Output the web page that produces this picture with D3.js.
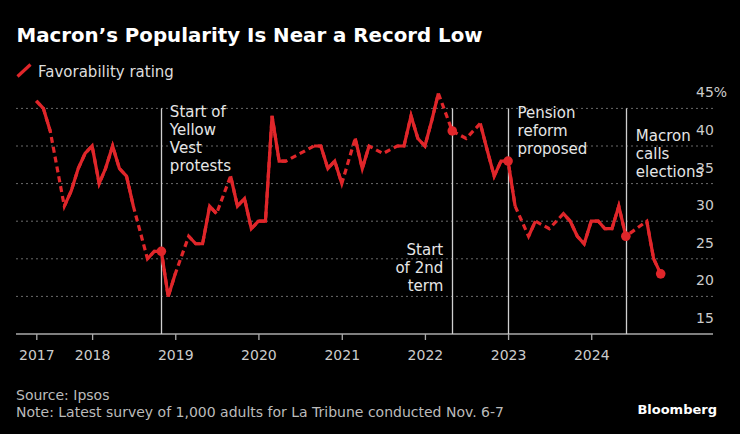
<!DOCTYPE html>
<html>
<head>
<meta charset="utf-8">
<script src="https://cdn.jsdelivr.net/npm/d3@7"></script>
<style>
  html, body { margin: 0; padding: 0; background: #000; }
  svg { display: block; font-family: "DejaVu Sans", sans-serif; }
</style>
</head>
<body>
<svg id="chart" width="740" height="434"></svg>
<script>
// ---- data ----
const months = [
  "2017-05","2017-06","2017-07","2017-09","2017-10","2017-11","2017-12",
  "2018-01","2018-02","2018-03","2018-04","2018-05","2018-06","2018-07","2018-09","2018-10","2018-11","2018-12",
  "2019-01","2019-03","2019-04","2019-05","2019-06","2019-07","2019-09","2019-10","2019-11","2019-12",
  "2020-01","2020-02","2020-03","2020-04","2020-05","2020-09","2020-10","2020-11","2020-12",
  "2021-01","2021-03","2021-04","2021-05","2021-07","2021-09","2021-10","2021-11","2021-12",
  "2022-01","2022-02","2022-03","2022-05","2022-07","2022-09","2022-10","2022-11","2022-12",
  "2023-01","2023-02","2023-04","2023-05","2023-07","2023-09","2023-10","2023-11","2023-12",
  "2024-01","2024-02","2024-03","2024-04","2024-05","2024-06","2024-09","2024-10","2024-11"
];
const favorability = [
  46,45,42,32,34,37,39,
  40,35,37,40,37,36,32,25,26,26,20,
  23,28,27,27,32,31,36,32,33,29,
  30,30,44,38,38,40,40,37,38,
  35,41,37,40,39,40,40,44,41,
  40,43.5,47,42,41,43,39.5,36,38,
  38,32,28,30,29,31,30,28,27,
  30,30,29,29,32,28,30,25,23
];
const yTicks = [15, 20, 25, 30, 35, 40, 45];
const xTickDates = ["2017-05","2018-01","2019-01","2020-01","2021-01","2022-01","2023-01","2024-01"];
const xTickLabels = ["2017","2018","2019","2020","2021","2022","2023","2024"];
const eventDates = ["2018-11","2022-05","2023-01","2024-06"];
const eventLabels = [
  ["Start of","Yellow","Vest","protests"],
  ["Start","of 2nd","term"],
  ["Pension","reform","proposed"],
  ["Macron","calls","elections"]
];
const title = "Macron\u2019s Popularity Is Near a Record Low";
const legendLabel = "Favorability rating";
const sourceText = "Source: Ipsos";
const noteText = "Note: Latest survey of 1,000 adults for La Tribune conducted Nov. 6-7";

// ---- setup ----
const parse = d3.timeParse("%Y-%m");
const RED = "#e0262a";
const svg = d3.select("#chart");
svg.append("rect").attr("width", 740).attr("height", 434).attr("fill", "#000");

const x = d3.scaleTime()
  .domain([parse("2017-05"), parse("2024-11")])
  .range([36.3, 660.7]);
const y = d3.scaleLinear().domain([15, 45]).range([334, 108.4]);

const data = months.map((m, i) => ({ date: parse(m), v: favorability[i], key: m }));
const monthIndex = d => d.getFullYear() * 12 + d.getMonth();

// ---- title & legend ----
svg.append("text").attr("x", 16.5).attr("y", 42)
  .attr("fill", "#fff").attr("font-size", 19.8).attr("font-weight", "bold")
  .text(title);
svg.append("line").attr("x1", 17.5).attr("y1", 76.5).attr("x2", 30.5).attr("y2", 64.5)
  .attr("stroke", RED).attr("stroke-width", 3.2);
svg.append("text").attr("x", 38).attr("y", 76.5)
  .attr("fill", "#ddd").attr("font-size", 15).text(legendLabel);

// ---- grid ----
const grid = svg.append("g");
grid.selectAll("line").data(yTicks.filter(t => t > 15)).join("line")
  .attr("x1", 16).attr("x2", 713)
  .attr("y1", d => y(d)).attr("y2", d => y(d))
  .attr("stroke", "#6a6a6a").attr("stroke-width", 1)
  .attr("stroke-dasharray", "2,3");

// y labels (above gridlines, right side)
svg.append("g").selectAll("text").data(yTicks).join("text")
  .attr("x", 696).attr("y", d => y(d) - 11)
  .attr("fill", "#ccc").attr("font-size", 14)
  .text(d => d === 45 ? d + "%" : d);

// ---- x axis ----
const xAxis = d3.axisBottom(x)
  .tickValues(xTickDates.map(parse))
  .tickFormat((d, i) => xTickLabels[i])
  .tickSize(6).tickPadding(10);
const gx = svg.append("g").attr("transform", "translate(0,334)").call(xAxis);
gx.select(".domain").remove();
gx.selectAll(".tick line").attr("stroke", "#aaa").attr("stroke-width", 1.3);
gx.selectAll(".tick text").attr("fill", "#ccc").attr("font-size", 14)
  .attr("font-family", "DejaVu Sans, sans-serif");
svg.append("line").attr("x1", 16).attr("x2", 713).attr("y1", 334).attr("y2", 334)
  .attr("stroke", "#aaa").attr("stroke-width", 1.3);

// ---- event lines & annotations ----
const ev = svg.append("g");
eventDates.forEach((ed, i) => {
  const ex = Math.round(x(parse(ed))) + 0.5;
  ev.append("line").attr("x1", ex).attr("x2", ex).attr("y1", y(45)).attr("y2", 334)
    .attr("stroke", "#cfcfcf").attr("stroke-width", 1.3);
});
const annoPos = [
  { dx: 8.5, y0: 116.5, anchor: "start" },
  { dx: -9, y0: 255, anchor: "end" },
  { dx: 9.5, y0: 117.5, anchor: "start" },
  { dx: 10, y0: 140.5, anchor: "start" }
];
eventLabels.forEach((lines, i) => {
  const ex = x(parse(eventDates[i]));
  const t = ev.append("text").attr("fill", "#e6e6e6").attr("font-size", 15)
    .attr("text-anchor", annoPos[i].anchor);
  lines.forEach((ln, j) => {
    t.append("tspan").attr("x", ex + annoPos[i].dx).attr("y", annoPos[i].y0 + j * 18).text(ln);
  });
});

// ---- series ----
const line = d3.line().x(d => x(d.date)).y(d => y(d.v));
// dashed line through all points (shows across gaps)
svg.append("path").datum(data)
  .attr("d", line).attr("fill", "none")
  .attr("stroke", RED).attr("stroke-width", 3.2)
  .attr("stroke-dasharray", "6,4");
// solid where consecutive months exist
const solidSegs = [];
let cur = [data[0]];
for (let i = 1; i < data.length; i++) {
  if (monthIndex(data[i].date) - monthIndex(data[i - 1].date) === 1) {
    cur.push(data[i]);
  } else {
    solidSegs.push(cur);
    cur = [data[i]];
  }
}
solidSegs.push(cur);
svg.append("g").selectAll("path").data(solidSegs.filter(s => s.length > 1)).join("path")
  .attr("d", line).attr("fill", "none")
  .attr("stroke", RED).attr("stroke-width", 3.2)
  .attr("stroke-linejoin", "miter").attr("stroke-linecap", "butt");

// dots at events and latest point
const dotKeys = eventDates.concat([months[months.length - 1]]);
svg.append("g").selectAll("circle").data(data.filter(d => dotKeys.includes(d.key))).join("circle")
  .attr("cx", d => x(d.date)).attr("cy", d => y(d.v)).attr("r", 4.8)
  .attr("fill", RED);

// ---- footer ----
svg.append("text").attr("x", 16).attr("y", 399.5)
  .attr("fill", "#bbb").attr("font-size", 14).text(sourceText);
svg.append("text").attr("x", 16).attr("y", 417)
  .attr("fill", "#bbb").attr("font-size", 14).text(noteText);
svg.append("text").attr("x", 717).attr("y", 414).attr("text-anchor", "end")
  .attr("fill", "#fff").attr("font-size", 13).attr("font-weight", "bold")
  .text("Bloomberg");
</script>
</body>
</html>
